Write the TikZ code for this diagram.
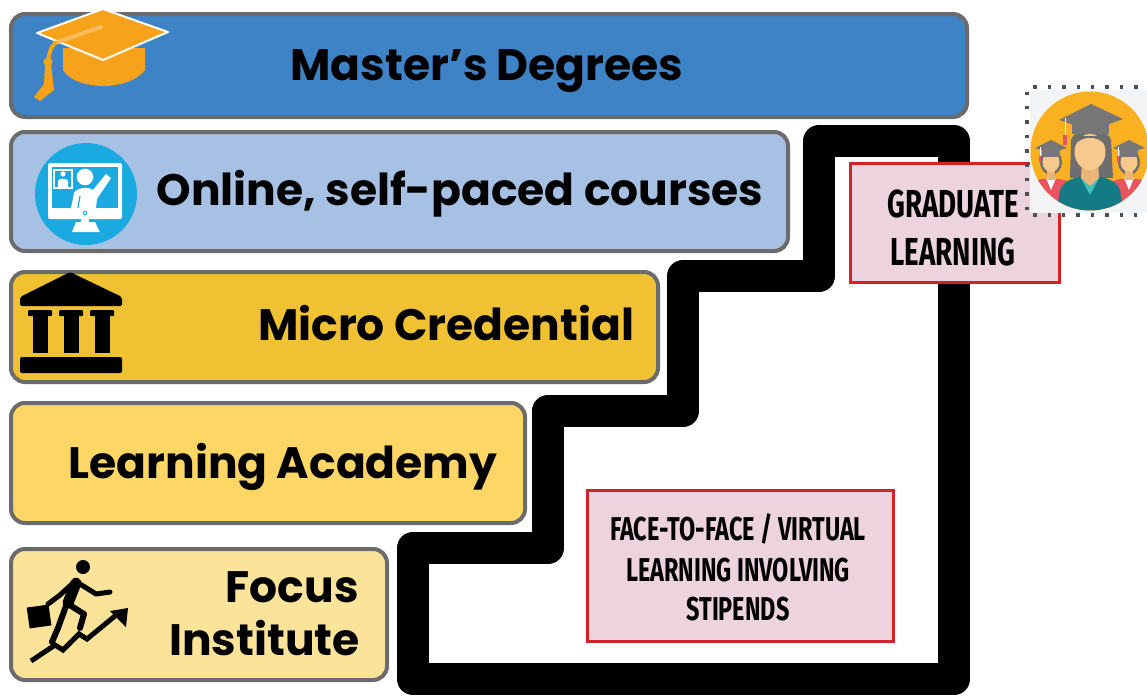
\documentclass[tikz,border=0pt]{standalone}
\usepackage{fontspec}
\setmainfont{Poppins}
\newfontfamily\condfont{Fira Sans}[FakeStretch=0.71]
\usetikzlibrary{calc}

\definecolor{tierline}{HTML}{6B6B6B}
\definecolor{masterblue}{HTML}{3D83C5}
\definecolor{onlineblue}{HTML}{A7C1E5}
\definecolor{microgold}{HTML}{F0C233}
\definecolor{academyyellow}{HTML}{FDD665}
\definecolor{focuscream}{HTML}{FBE39A}
\definecolor{caporange}{HTML}{F7A21B}
\definecolor{capstring}{HTML}{F9BE5A}
\definecolor{screenblue}{HTML}{1AA9E1}
\definecolor{notered}{HTML}{D42027}
\definecolor{notepink}{HTML}{ECD3DE}
\definecolor{gradorange}{HTML}{F9B121}
\definecolor{gradgray}{HTML}{6E6E6E}
\definecolor{gradcapgray}{HTML}{777777}
\definecolor{gradskin}{HTML}{F7C98D}
\definecolor{gradneck}{HTML}{EBB57A}
\definecolor{gradteal}{HTML}{147A83}
\definecolor{gradlightteal}{HTML}{3FC1BE}
\definecolor{gradred}{HTML}{E8545F}
\definecolor{gradbg}{HTML}{F3F4F6}
\definecolor{dotgray}{HTML}{505050}

\tikzset{
  tier/.style={draw=tierline, line width=4pt, rounded corners=14pt,
    anchor=north west, inner sep=0pt, minimum width=#1},
  tiertext/.style={font=\bfseries\fontsize{44}{48}\selectfont, inner sep=0pt, anchor=base},
  notebox/.style={draw=notered, fill=notepink, line width=3pt, anchor=north west, inner sep=0pt},
  notetext/.style={font=\condfont\bfseries\fontsize{#1}{#1}\selectfont, inner sep=0pt, anchor=base},
  stairline/.style={line width=32pt, line join=round, draw=black},
}

\begin{document}
\begin{tikzpicture}[x=1pt, y=-1pt]
\useasboundingbox (0,0) rectangle (1147,696);

% ---------- tier boxes ----------
\node[tier=956pt, fill=masterblue, minimum height=103pt] (master) at (9,12) {};
\node[tier=777pt, fill=onlineblue, minimum height=119pt] (online) at (9,130) {};
\node[tier=647pt, fill=microgold, minimum height=110pt] (micro) at (9,270) {};
\node[tier=514pt, fill=academyyellow, minimum height=120pt] (academy) at (9,401) {};
\node[tier=376pt, fill=focuscream, minimum height=131pt] (focus) at (9,547) {};

\node[tiertext] (mastertxt) at (487,80) {Master’s Degrees};
\node[tiertext] (onlinetxt) at (460,205) {Online, self-paced courses};
\node[tiertext] (microtxt) at (446,340) {Micro Credential};
\node[tiertext] (academytxt) at (283,478) {Learning Academy};
\node[tiertext, anchor=base east] (focustxt) at (359,602) {Focus};
\node[tiertext, anchor=base east] (institutetxt) at (360,655) {Institute};

% ---------- staircase ----------
\draw[stairline] (413,679) -- (413,548) -- (548,548) -- (548,411) -- (683,411)
  -- (683,276) -- (819,276) -- (819,141) -- (954,141) -- (954,679) -- cycle;

% ---------- note boxes ----------
\node[notebox, minimum width=209pt, minimum height=119pt] (gradbox) at (848.5,161.5) {};
\node[notetext=39] (gradl1) at (953,217) {GRADUATE};
\node[notetext=39] (gradl2) at (953,265) {LEARNING};

\node[notebox, minimum width=306pt, minimum height=151pt] (f2fbox) at (585.5,488.5) {};
\node[notetext=33] (f2fl1) at (738,540) {FACE-TO-FACE / VIRTUAL};
\node[notetext=33] (f2fl2) at (738,581) {LEARNING INVOLVING};
\node[notetext=33] (f2fl3) at (738,620) {STIPENDS};

% ---------- graduation cap icon ----------
\fill[caporange] (63,48) -- (63,70) .. controls (70,82) and (90,86) .. (104,86)
  .. controls (120,86) and (138,80) .. (145,70) -- (145,48) -- cycle;
\fill[caporange, draw=white, line width=2pt, line join=round]
  (37,33) -- (103,9) -- (168,32) -- (103,60) -- cycle;
\draw[capstring, line width=4pt, line cap=round] (101,27) -- (55,43);
\draw[caporange, line width=4pt, line cap=round] (55,43) .. controls (50,48) and (49,54) .. (48,62);
\fill[caporange] (48,62) circle (4.5);
\fill[caporange] (45,64) -- (51,64) -- (54,90) -- (40,101) -- (34,97) -- (44,84) -- cycle;

% ---------- online teaching icon ----------
\fill[screenblue] (86,194) circle (51);
\fill[white, rounded corners=2pt] (48,163) rectangle (122,219);
\fill[screenblue] (52,167) rectangle (118,208);
\fill[screenblue] (85,213) circle (2.2);
\fill[white] (85,213) circle (1.1);
\fill[white] (81,219) rectangle (89,223);
\fill[white] (76,222) -- (95,222) -- (100,232) -- (72,232) -- cycle;
% small viewer window
\draw[white, line width=1.2pt] (54,170) rectangle (72,188);
\fill[white] (63,174) circle (2.6);
\fill[white] (58,187) -- (58,181) .. controls (58,178) and (68,178) .. (68,181) -- (68,187) -- cycle;
% teacher with raised arm
\fill[white] (85,177) circle (8.3);
\fill[white] (71,208) -- (74,193) .. controls (76,188) and (88,186) .. (93,190)
  -- (106,174) -- (111,178) -- (97,199) -- (96,208) -- cycle;
\draw[screenblue, line width=1.2pt] (80,196) -- (78,208);

% ---------- institution icon ----------
\fill[black, rounded corners=2pt] (20,297) -- (70,272) -- (122,297) -- (122,306) -- (20,306) -- cycle;
\foreach \cx in {40,71,102} {
  \fill[black, rounded corners=1pt] (\cx-12,310) rectangle (\cx+12,316);
  \fill[black] (\cx-7.5,315) rectangle (\cx+7.5,353);
}
\fill[black, rounded corners=2pt] (20,357) rectangle (122,373);

% ---------- climber icon ----------
\fill[black] (83,567) circle (7);
\draw[black, line width=11pt, line cap=round, line join=round] (76,583) -- (68,603);
\draw[black, line width=5pt, line cap=round, line join=round] (80,584) -- (96,594) -- (110,592);
\draw[black, line width=5pt, line cap=round, line join=round] (72,584) -- (60,595) -- (48,604);
\fill[black, rotate around={8:(39,616)}] (28,606) rectangle (50,627);
\draw[black, line width=6pt, line cap=round, line join=round] (68,604) -- (84,614) -- (80,628);
\draw[black, line width=6pt, line cap=round, line join=round] (66,606) -- (58,628) -- (52,642);
\draw[black, line width=5pt, line join=miter] (31,661) -- (55,645) -- (63,650) -- (79,634)
  -- (87,639) -- (115,616);
\fill[black] (128,608) -- (110,611) -- (126,627) -- cycle;

% ---------- graduates badge ----------
\fill[gradbg] (1030,90) rectangle (1150,213);
\draw[dotgray, line width=3.4pt, dash pattern=on 3.4pt off 11pt]
  (1152,87) -- (1027,87) -- (1027,215) -- (1152,215);
\begin{scope}
  \clip (1090,151) circle (59.5);
  \fill[gradorange] (1090,151) circle (59.5);
  % side graduates
  \foreach \gx in {1051, 1129} {
    \fill[gradgray] (\gx,162) ellipse (11 and 13);
    \fill[gradred] (\gx-22,213) -- (\gx-19,183) .. controls (\gx-14,177) and (\gx+14,177) .. (\gx+19,183) -- (\gx+22,213) -- cycle;
    \fill[white] (\gx-5,178) -- (\gx+5,178) -- (\gx,190) -- cycle;
    \fill[gradneck] (\gx-4,170) rectangle (\gx+4,180);
    \fill[gradskin] (\gx,162) ellipse (8.5 and 10);
    \fill[gradcapgray] (\gx-9,150) rectangle (\gx+9,157);
    \fill[gradcapgray] (\gx-16,148) -- (\gx,140) -- (\gx+16,148) -- (\gx,153) -- cycle;
    \draw[white, line width=0.8pt] (\gx-11,147) -- (\gx-11,158);
    \fill[gradred] (\gx-12.2,156) rectangle (\gx-9.8,162);
  }
  % central graduate
  \fill[gradgray] (1070,178) -- (1071,140) .. controls (1072,128) and (1110,128) .. (1111,140) -- (1113,178) -- cycle;
  \fill[gradteal] (1056,215) -- (1060,190) .. controls (1064,180) and (1074,177) .. (1090,176)
    .. controls (1106,177) and (1116,180) .. (1120,190) -- (1124,215) -- cycle;
  \fill[gradlightteal] (1081,178) -- (1099,178) -- (1090,195) -- cycle;
  \fill[gradneck] (1082,162) -- (1098,162) -- (1099,178) -- (1090,186) -- (1081,178) -- cycle;
  \fill[gradskin] (1090,152) ellipse (15.5 and 18);
  \fill[gradgray] (1074,146) .. controls (1080,136) and (1098,134) .. (1106,146) -- (1106,136) -- (1074,136) -- cycle;
  \fill[gradcapgray] (1072,119) rectangle (1109,134);
  \fill[gradcapgray] (1059,120) -- (1091,104) -- (1123,119) -- (1091,131) -- cycle;
  \draw[white, line width=1pt] (1065,118) -- (1065,137);
  \fill[gradred] (1063.3,135) rectangle (1066.7,145);
\end{scope}
\end{tikzpicture}
\end{document}
